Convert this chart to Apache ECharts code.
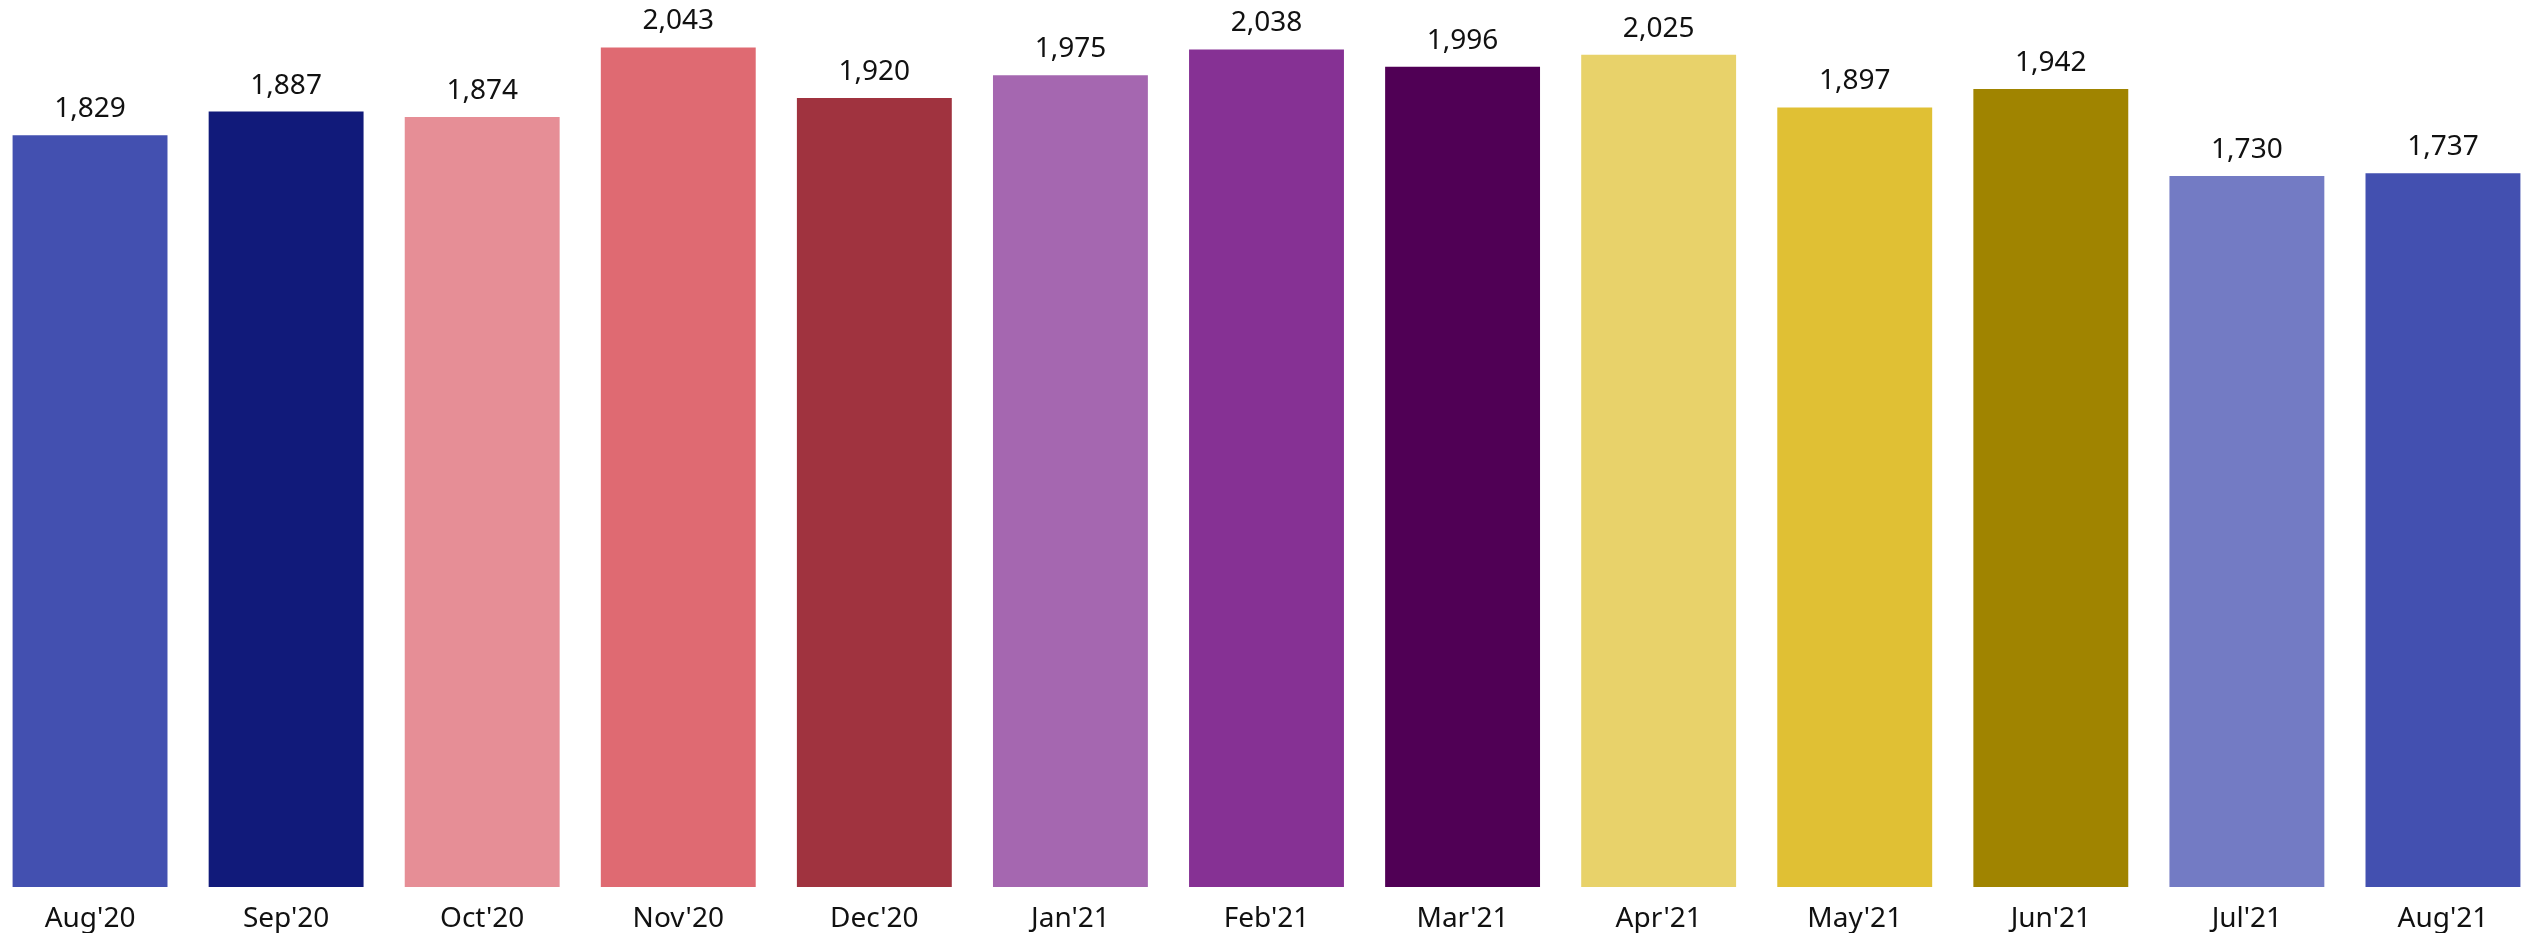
<!DOCTYPE html>
<html>
<head>
<meta charset="utf-8">
<script src="https://cdn.jsdelivr.net/npm/echarts@6/dist/echarts.min.js"></script>
<style>
html,body{margin:0;padding:0;background:#fff;overflow:hidden;width:2533px;height:933px;}
#chart{width:2549px;height:933px;margin-left:-8px;}
</style>
</head>
<body>
<div id="chart"></div>
<script>
const categories = ["Aug'20","Sep'20","Oct'20","Nov'20","Dec'20","Jan'21","Feb'21","Mar'21","Apr'21","May'21","Jun'21","Jul'21","Aug'21"];
const values = [1829,1887,1874,2043,1920,1975,2038,1996,2025,1897,1942,1730,1737];
const barColors = ["#4350B0","#111A7A","#E68E96","#DF6A72","#A0333F","#A567B0","#863194","#500055","#E8D26A","#E0C034","#A08400","#737BC4","#4350B0"];

const chart = echarts.init(document.getElementById('chart'), null, {renderer:'canvas'});
const fontFamily = '"Segoe UI","Noto Sans","Open Sans",sans-serif';
chart.setOption({
  animation:false,
  backgroundColor:'#ffffff',
  grid:{left:0, right:0, top:24, bottom:45.5, containLabel:false},
  xAxis:{
    type:'category',
    data:categories,
    axisLine:{show:false},
    axisTick:{show:false},
    axisLabel:{color:'#111111', fontSize:28, fontFamily:fontFamily, margin:18, interval:0}
  },
  yAxis:{
    type:'value', min:0, max:2100, show:false,
    splitLine:{show:false}
  },
  series:[{
    type:'bar',
    data:values.map((v,i)=>({value:v, itemStyle:{color:barColors[i]}})),
    barCategoryGap:'21%',
    label:{
      show:true, position:'top', distance:12,
      color:'#111111', fontSize:28, fontFamily:fontFamily,
      formatter:p=>p.value.toLocaleString('en-US')
    }
  }]
});
</script>
</body>
</html>
